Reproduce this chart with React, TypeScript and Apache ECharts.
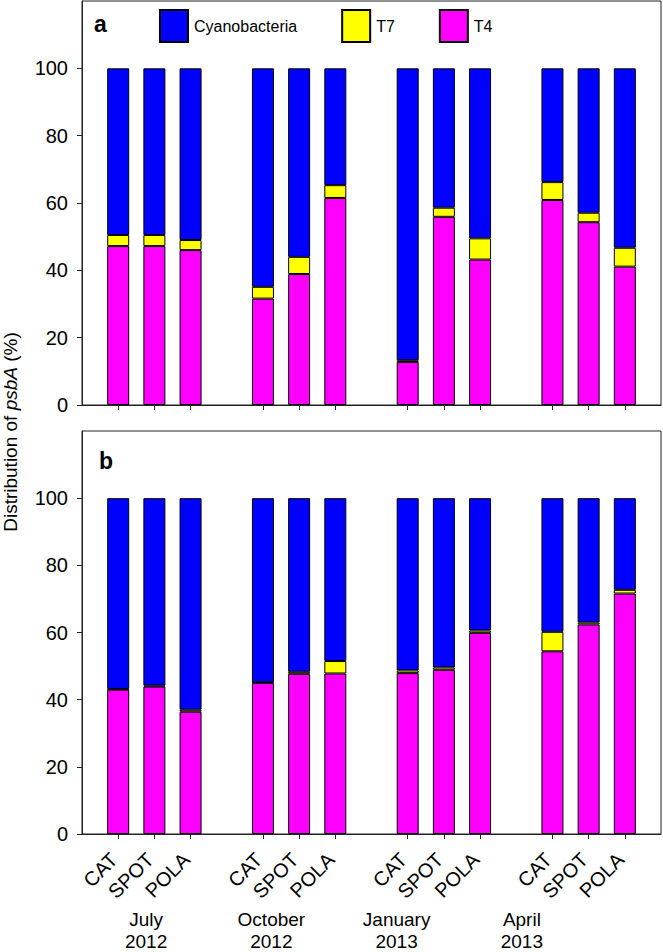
import React, { useEffect, useRef } from "react";
import * as echarts from "echarts";

// ---- data ----
const xCategories = ["", "CAT", "SPOT", "POLA", "", "CAT", "SPOT", "POLA", "", "CAT", "SPOT", "POLA", "", "CAT", "SPOT", "POLA", ""];
const monthLabels = ["July\n2012", "October\n2012", "January\n2013", "April\n2013"];
const seriesNames = ["Cyanobacteria", "T7", "T4"];

// panel a
const t4A = [47.2, 47.2, 46.0, 31.6, 38.9, 61.5, 12.8, 55.9, 43.2, 60.9, 54.3, 41.1];
const t7A = [3.3, 3.3, 3.0, 3.5, 5.1, 3.8, 0.5, 2.7, 6.3, 5.3, 2.8, 5.6];
const cyanoA = [49.5, 49.5, 51.0, 64.9, 56.0, 34.7, 86.7, 41.4, 50.5, 33.8, 42.9, 53.3];

// panel b
const t4B = [43.0, 43.9, 36.4, 45.0, 47.7, 47.8, 47.9, 48.9, 59.9, 54.4, 62.4, 71.6];
const t7B = [0.2, 0.3, 0.6, 0.2, 0.6, 3.7, 0.8, 0.7, 0.7, 5.8, 0.6, 1.1];
const cyanoB = [56.8, 55.8, 63.0, 54.8, 51.7, 48.5, 51.3, 50.4, 39.4, 39.8, 37.0, 27.3];

const yTicks = [0, 20, 40, 60, 80, 100];

const COLORS: Record<string, string> = {
  Cyanobacteria: "#0000FF",
  T7: "#FFFF00",
  T4: "#FF00FF",
};

const FONT = "'Liberation Sans', Arial, Helvetica, sans-serif";
const LINE = "#222";

function place(values: number[]) {
  let k = 0;
  return xCategories.map((c) => (c === "" ? null : values[k++]));
}

export default function App() {
  const ref = useRef<HTMLDivElement>(null);

  useEffect(() => {
    if (!ref.current) return;
    const chart = echarts.init(ref.current, undefined, { renderer: "svg" });

    const panels = [
      { t4: t4A, t7: t7A, cy: cyanoA },
      { t4: t4B, t7: t7B, cy: cyanoB },
    ];

    const series: any[] = [];
    panels.forEach((p, i) => {
      const add = (name: string, vals: number[]) =>
        series.push({
          type: "bar",
          name,
          xAxisIndex: i,
          yAxisIndex: i,
          stack: "s" + i,
          barWidth: 22,
          data: place(vals),
          itemStyle: { color: COLORS[name], borderColor: "#000", borderWidth: 1 },
          emphasis: { disabled: true },
        });
      add("T4", p.t4);
      add("T7", p.t7);
      add("Cyanobacteria", p.cy);
    });

    const tickFilter = (_idx: number, value: string) => value !== "";

    const xBase = (gridIndex: number, showLabel: boolean) => ({
      type: "category",
      gridIndex,
      data: xCategories,
      boundaryGap: false,
      axisLine: { show: true, lineStyle: { color: LINE, width: 1 } },
      axisTick: { show: true, interval: tickFilter, length: 5, lineStyle: { color: LINE } },
      axisLabel: {
        show: showLabel,
        interval: tickFilter,
        rotate: 45,
        margin: 18,
        padding: [0, 6, 0, 0],
        fontSize: 20,
        fontFamily: FONT,
        color: "#000",
      },
      splitLine: { show: false },
    });

    const yBase = (gridIndex: number) => ({
      type: "value",
      gridIndex,
      min: 0,
      max: 120,
      interval: 20,
      axisLine: { show: true, lineStyle: { color: LINE, width: 1 } },
      axisTick: { show: true, length: 5, customValues: yTicks, lineStyle: { color: LINE } },
      axisLabel: {
        customValues: yTicks,
        margin: 14,
        fontSize: 20,
        fontFamily: FONT,
        color: "#000",
        formatter: (v: number) => (v > 100 ? "" : String(v)),
      },
      splitLine: { show: false },
    });

    chart.setOption({
      animation: false,
      textStyle: { fontFamily: FONT },
      grid: [
        { left: 82, right: 2, top: 1, height: 404, show: true, borderColor: LINE, borderWidth: 1, containLabel: false },
        { left: 82, right: 2, top: 431, height: 403, show: true, borderColor: LINE, borderWidth: 1, containLabel: false },
        { left: 83.5, width: 501, top: 900, height: 1, show: false },
      ],
      legend: {
        data: seriesNames,
        left: 154,
        top: 4,
        itemWidth: 28,
        itemHeight: 32,
        itemGap: 44,
        icon: "rect",
        selectedMode: false,
        textStyle: { fontSize: 16, fontFamily: FONT, color: "#000", padding: [0, 0, 0, 1] },
      },
      xAxis: [
        xBase(0, false),
        xBase(1, true),
        {
          type: "category",
          gridIndex: 2,
          data: monthLabels,
          boundaryGap: true,
          axisLine: { show: false },
          axisTick: { show: false },
          axisLabel: { fontSize: 19, lineHeight: 22, margin: 8, fontFamily: FONT, color: "#000", interval: 0 },
        },
      ],
      yAxis: [yBase(0), yBase(1), { type: "value", gridIndex: 2, show: false }],
      series,
      graphic: [
        {
          type: "text",
          left: 94,
          top: 12,
          style: { text: "a", fontSize: 23, fontWeight: "bold", fontFamily: FONT, fill: "#000" },
        },
        {
          type: "text",
          left: 99,
          top: 449,
          style: { text: "b", fontSize: 23, fontWeight: "bold", fontFamily: FONT, fill: "#000" },
        },
        {
          type: "text",
          x: 10,
          y: 432,
          rotation: Math.PI / 2,
          style: {
            text: "{n|Distribution of }{i|psbA}{n| (%)}",
            align: "center",
            verticalAlign: "middle",
            fill: "#000",
            rich: {
              n: { fontSize: 19, fontFamily: FONT, fill: "#000" },
              i: { fontSize: 19, fontFamily: FONT, fontStyle: "italic", fill: "#000" },
            },
          },
        },
      ],
    });

    return () => chart.dispose();
  }, []);

  return (
    <div
      ref={ref}
      style={{ position: "fixed", left: 0, top: 0, width: 663, height: 952, background: "#fff" }}
    />
  );
}
